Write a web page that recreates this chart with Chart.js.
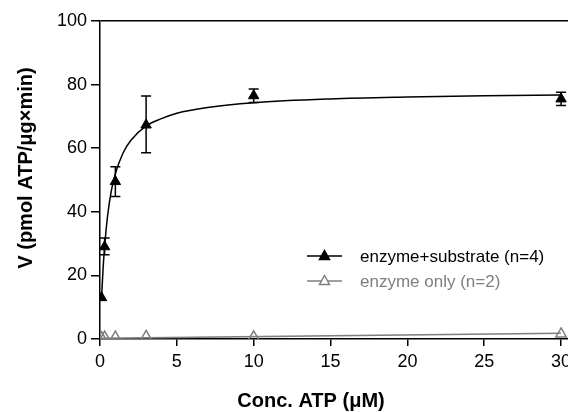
<!DOCTYPE html>
<html>
<head>
<meta charset="utf-8">
<script src="https://cdn.jsdelivr.net/npm/chart.js@4.4.1/dist/chart.umd.min.js"></script>
<style>
    html, body { margin: 0; padding: 0; background: #fff; }
    #wrap { width: 568px; height: 412px; }
</style>
</head>
<body>
<div id="wrap"><canvas id="chart"></canvas></div>
<script>
// ATP concentrations (uM)
const concATP = [0.1, 0.3, 1, 3, 10, 30];
// enzyme + substrate, mean and SEM bounds
const substrateMean = [13, 29, 49.5, 67.3, 76.5, 75.5];
const substrateHigh = [13, 31.8, 54.2, 76.4, 78.6, 77.6];
const substrateLow = [13, 26.5, 44.8, 58.6, 74.4, 73.4];
// fitted curve
const fitX = [0.1, 0.2, 0.3, 0.5, 0.75, 1, 1.5, 2, 3, 4, 5, 7, 10, 15, 20, 25, 30];
const fitY = [13, 22, 29, 39, 47, 52, 58.5, 62.4, 67, 69.3, 71, 72.8, 74.3, 75.5, 76.1, 76.5, 76.7];
// enzyme only points and its straight fit line
const enzymeOnly = [0.4, 0.6, 0.6, 0.8, 0.7, 1.6];
const enzymeLineX = [0, 30];
const enzymeLineY = [0.2, 1.8];

const xTicks = [0, 5, 10, 15, 20, 25, 30];
const yTicks = [0, 20, 40, 60, 80, 100];

const grey = '#7f7f7f';
const fontFamily = '"Liberation Sans", Arial, sans-serif';

const errorBars = {
    id: 'errorBars',
    afterDatasetsDraw(chart) {
        const ctx = chart.ctx;
        const xs = chart.scales.x;
        const ys = chart.scales.y;
        ctx.save();
        ctx.strokeStyle = '#000';
        ctx.lineWidth = 1.5;
        concATP.forEach((c, i) => {
            const px = xs.getPixelForValue(c);
            const top = ys.getPixelForValue(substrateHigh[i]);
            const bot = ys.getPixelForValue(substrateLow[i]);
            if (Math.abs(bot - top) < 1) return;
            ctx.beginPath();
            ctx.moveTo(px, top); ctx.lineTo(px, bot);
            ctx.moveTo(px - 5, top); ctx.lineTo(px + 5, top);
            ctx.moveTo(px - 5, bot); ctx.lineTo(px + 5, bot);
            ctx.stroke();
        });
        ctx.restore();
    }
};

const insideLegend = {
    id: 'insideLegend',
    afterDraw(chart) {
        const ctx = chart.ctx;
        const items = [
            { text: 'enzyme+substrate (n=4)', color: '#000', fill: '#000', y: 256 },
            { text: 'enzyme only (n=2)', color: grey, fill: '#fff', y: 281 }
        ];
        ctx.save();
        items.forEach(it => {
            ctx.strokeStyle = it.color;
            ctx.lineWidth = 1.5;
            ctx.beginPath();
            ctx.moveTo(307, it.y); ctx.lineTo(342, it.y);
            ctx.stroke();
            ctx.fillStyle = it.fill;
            ctx.beginPath();
            ctx.moveTo(324.5, it.y - 5.5); ctx.lineTo(329.5, it.y + 3.5); ctx.lineTo(319.5, it.y + 3.5); ctx.closePath();
            ctx.fill(); ctx.stroke();
            ctx.fillStyle = it.color;
            ctx.font = '17px ' + fontFamily;
            ctx.textBaseline = 'middle';
            ctx.fillText(it.text, 360, it.y + 1);
        });
        ctx.restore();
    }
};

const axisTitles = {
    id: 'axisTitles',
    afterDraw(chart) {
        const ctx = chart.ctx;
        ctx.save();
        ctx.fillStyle = '#000';
        ctx.font = 'bold 20px ' + fontFamily;
        ctx.textAlign = 'center';
        ctx.textBaseline = 'alphabetic';
        ctx.fillText('Conc. ATP (\u03bcM)', 311, 407);
        ctx.translate(32, 168);
        ctx.rotate(-Math.PI / 2);
        ctx.fillText('V (pmol ATP/\u03bcg\u00d7min)', 0, 0);
        ctx.restore();
    }
};

new Chart(document.getElementById('chart'), {
    type: 'scatter',
    data: {
        datasets: [
            {
                label: 'enzyme only fit',
                data: enzymeLineX.map((c, i) => ({ x: c, y: enzymeLineY[i] })),
                showLine: true,
                borderColor: grey,
                borderWidth: 1.5,
                pointRadius: 0
            },
            {
                label: 'enzyme only (n=2)',
                data: concATP.map((c, i) => ({ x: c, y: enzymeOnly[i] })),
                pointStyle: 'triangle',
                pointRadius: 6,
                pointBorderWidth: 1.5,
                pointBorderColor: grey,
                pointBackgroundColor: 'rgba(255,255,255,0)'
            },
            {
                label: 'fit',
                data: fitX.map((c, i) => ({ x: c, y: fitY[i] })),
                showLine: true,
                borderColor: '#000',
                borderWidth: 1.5,
                pointRadius: 0,
                cubicInterpolationMode: 'monotone'
            },
            {
                label: 'enzyme+substrate (n=4)',
                data: concATP.map((c, i) => ({ x: c, y: substrateMean[i] })),
                pointStyle: 'triangle',
                pointRadius: 6,
                pointBorderWidth: 1,
                pointBorderColor: '#000',
                pointBackgroundColor: '#000'
            }
        ]
    },
    options: {
        responsive: true,
        maintainAspectRatio: false,
        animation: false,
        layout: { autoPadding: false, padding: { top: 21, right: 0, left: 0, bottom: 0 } },
        plugins: {
            legend: { display: false },
            tooltip: { enabled: false }
        },
        scales: {
            x: {
                type: 'linear',
                min: 0,
                max: 30.45,
                afterBuildTicks: axis => { axis.ticks = xTicks.map(v => ({ value: v })); },
                afterFit: axis => { axis.height = 73; axis.paddingLeft = 0; axis.paddingRight = 0; },
                ticks: { color: '#000', font: { size: 18, family: fontFamily }, padding: 5, maxRotation: 0 },
                grid: { drawOnChartArea: false, color: '#000', tickLength: 7, lineWidth: 1.5 },
                border: { color: '#000', width: 1.5 }
            },
            y: {
                min: 0,
                max: 100,
                afterBuildTicks: axis => { axis.ticks = yTicks.map(v => ({ value: v })); },
                afterFit: axis => { axis.width = 100; axis.paddingTop = 0; axis.paddingBottom = 0; },
                ticks: { color: '#000', font: { size: 18, family: fontFamily }, padding: 4 },
                grid: {
                    color: ctx => ctx.tick && ctx.tick.value === 100 ? '#000' : 'rgba(0,0,0,0)',
                    tickColor: '#000',
                    tickLength: 9,
                    lineWidth: 1.5
                },
                border: { color: '#000', width: 1.5 }
            }
        }
    },
    plugins: [errorBars, insideLegend, axisTitles]
});
</script>
</body>
</html>
